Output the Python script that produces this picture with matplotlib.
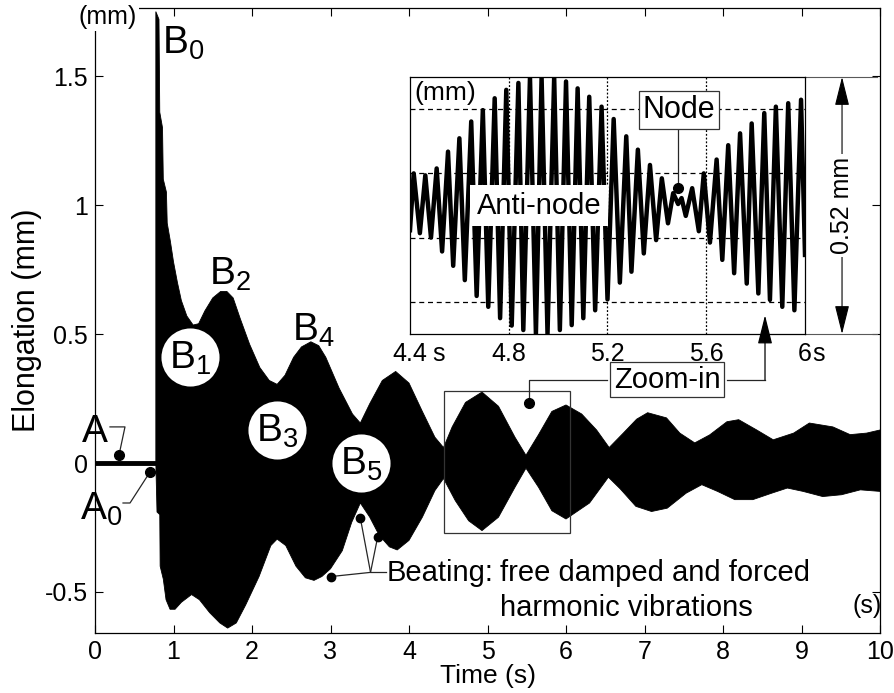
import numpy as np
import matplotlib
matplotlib.use('Agg')
import matplotlib.pyplot as plt
from matplotlib.patches import Rectangle

plt.rcParams['font.family'] = ['Liberation Sans', 'DejaVu Sans']
plt.rcParams['mathtext.fontset'] = 'custom'
plt.rcParams['mathtext.rm'] = 'Liberation Sans'
plt.rcParams['mathtext.it'] = 'Liberation Sans'

# ---------------- data ----------------
rest_t = [0.0, 0.775]
rest_v = [0.0, 0.0]

upper_t = [0.775, 0.815, 0.825, 0.86, 0.87, 0.91, 0.92, 0.96, 1.0, 1.05, 1.1, 1.17,
           1.25, 1.32, 1.40, 1.50, 1.60, 1.68, 1.76, 1.85, 1.97, 2.10, 2.22, 2.32,
           2.42, 2.53, 2.63, 2.75, 2.85, 2.94, 3.11, 3.28, 3.38, 3.50, 3.66, 3.83,
           4.0, 4.17, 4.33, 4.44, 4.55, 4.72, 4.93, 5.14, 5.35, 5.49, 5.65, 5.82,
           6.0, 6.2, 6.39, 6.55, 6.73, 6.90, 7.04, 7.28, 7.45, 7.64, 7.83, 8.05,
           8.2, 8.43, 8.64, 8.9, 9.1, 9.40, 9.62, 9.83, 10.0]
upper_v = [1.75, 1.72, 1.36, 1.30, 1.10, 1.05, 0.93, 0.86, 0.78, 0.70, 0.63, 0.57,
           0.535, 0.54, 0.59, 0.64, 0.665, 0.665, 0.64, 0.56, 0.46, 0.37, 0.32, 0.305,
           0.34, 0.41, 0.45, 0.47, 0.455, 0.41, 0.29, 0.19, 0.155, 0.23, 0.32, 0.355,
           0.31, 0.20, 0.10, 0.06, 0.14, 0.235, 0.275, 0.22, 0.10, 0.03, 0.11, 0.20,
           0.225, 0.19, 0.128, 0.06, 0.116, 0.17, 0.195, 0.175, 0.116, 0.078, 0.109, 0.16,
           0.168, 0.128, 0.09, 0.116, 0.155, 0.14, 0.11, 0.116, 0.128]

lower_t = [0.775, 0.79, 0.825, 0.83, 0.87, 0.905, 0.956, 1.02, 1.10, 1.23, 1.33, 1.46,
           1.59, 1.69, 1.80, 1.92, 2.09, 2.24, 2.32, 2.43, 2.56, 2.68, 2.79, 2.89,
           3.0, 3.15, 3.27, 3.38, 3.50, 3.62, 3.75, 3.85, 4.0, 4.17, 4.33, 4.44,
           4.59, 4.76, 4.93, 5.14, 5.35, 5.49, 5.65, 5.82, 6.0, 6.3, 6.54, 6.69,
           6.89, 7.09, 7.29, 7.53, 7.73, 7.93, 8.15, 8.38, 8.62, 8.82, 9.02, 9.27,
           9.51, 9.75, 10.0]
lower_v = [0.0, -0.19, -0.20, -0.40, -0.45, -0.53, -0.567, -0.567, -0.54, -0.51, -0.53, -0.58,
           -0.62, -0.64, -0.62, -0.55, -0.44, -0.32, -0.295, -0.32, -0.40, -0.445, -0.455, -0.44,
           -0.41, -0.34, -0.23, -0.155, -0.21, -0.28, -0.325, -0.337, -0.30, -0.21, -0.107, -0.06,
           -0.146, -0.224, -0.262, -0.21, -0.094, -0.02, -0.094, -0.185, -0.217, -0.155, -0.055, -0.10,
           -0.168, -0.188, -0.175, -0.117, -0.084, -0.11, -0.142, -0.142, -0.117, -0.097, -0.11, -0.13,
           -0.123, -0.104, -0.11]

# zoom-in (inset): successive extremes of the oscillation
inset_t = [4.40, 4.415, 4.44, 4.462, 4.485, 4.508, 4.53, 4.554, 4.575, 4.60, 4.622, 4.648,
           4.67, 4.695, 4.717, 4.743, 4.765, 4.79, 4.812, 4.839, 4.859, 4.886, 4.910, 4.933,
           4.957, 4.984, 5.007, 5.032, 5.055, 5.079, 5.102, 5.126, 5.15, 5.176, 5.20, 5.225,
           5.25, 5.276, 5.297, 5.323, 5.347, 5.372, 5.397, 5.42, 5.445, 5.466, 5.486, 5.50,
           5.517, 5.543, 5.570, 5.59, 5.615, 5.642, 5.665, 5.689, 5.713, 5.737, 5.764, 5.784,
           5.811, 5.835, 5.858, 5.882, 5.908, 5.932, 5.957, 5.984, 6.0]
inset_v = [-0.05, 0.065, -0.056, 0.061, -0.065, 0.075, -0.093, 0.109, -0.122, 0.136, -0.151, 0.170,
           -0.183, 0.193, -0.205, 0.217, -0.228, 0.234, -0.243, 0.248, -0.252, 0.26, -0.26, 0.26,
           -0.26, 0.26, -0.252, 0.251, -0.242, 0.237, -0.228, 0.220, -0.212, 0.200, -0.19, 0.175,
           -0.156, 0.14, -0.134, 0.113, -0.097, 0.082, -0.070, 0.055, -0.036, 0.025, 0.003, 0.015,
           -0.021, 0.035, -0.052, 0.065, -0.075, 0.093, -0.110, 0.122, -0.137, 0.146, -0.158, 0.166,
           -0.178, 0.187, -0.191, 0.200, -0.205, 0.207, -0.212, 0.214, -0.10]

x_ticks = [0, 1, 2, 3, 4, 5, 6, 7, 8, 9, 10]
x_tick_labels = ['0', '1', '2', '3', '4', '5', '6', '7', '8', '9', '10']
y_ticks = [-0.5, 0, 0.5, 1, 1.5]
y_tick_labels = ['-0.5', '0', '0.5', '1', '1.5']
inset_x_ticks = [4.4, 4.8, 5.2, 5.6, 6.0]
inset_x_labels = ['4.4', '4.8', '5.2', '5.6', '6']
inset_grid_y = [-0.195, -0.065, 0.065, 0.195]

# ---------------- figure ----------------
W, H = 895, 693
fig = plt.figure(figsize=(W / 100, H / 100), dpi=100)
ax = fig.add_axes([95 / W, 1 - 633 / H, 785 / W, 625 / H])
ax.set_xlim(0, 10)
ax.set_ylim(-0.659, 1.764)

ax.plot(rest_t, rest_v, color='black', lw=3.5, solid_capstyle='butt')
poly_t = np.concatenate([upper_t, lower_t[::-1]])
poly_v = np.concatenate([upper_v, lower_v[::-1]])
ax.fill(poly_t, poly_v, color='black', lw=0.6, ec='black')

ax.set_xticks(x_ticks, x_tick_labels)
ax.set_yticks(y_ticks, y_tick_labels)
ax.tick_params(direction='in', length=6, width=0.8, pad=5, labelsize=18,
               top=True, right=True)
for s in ax.spines.values():
    s.set_linewidth(0.9)
ax.set_xlabel('Time (s)', fontsize=19, labelpad=0)
ax.set_ylabel('Elongation (mm)', fontsize=22, labelpad=2)

# unit labels
ax.text(0.166, 1.729, '(mm)', fontsize=18, ha='center', va='center',
        bbox=dict(fc='white', ec='none', pad=1), clip_on=False, zorder=6)
ax.text(9.83, -0.555, '(s)', fontsize=18, ha='center', va='center')

# B labels
bsize = 28
ax.text(0.85, 1.585, r'B$_\mathregular{0}$', fontsize=bsize, ha='left', va='baseline')
ax.text(1.45, 0.69, r'B$_\mathregular{2}$', fontsize=bsize, ha='left', va='baseline')
ax.text(2.51, 0.475, r'B$_\mathregular{4}$', fontsize=bsize, ha='left', va='baseline')
circ_t = [1.21, 2.318, 3.39]
circ_v = [0.41, 0.128, 0.0]
ax.scatter(circ_t, circ_v, s=1750, color='white', zorder=3, linewidths=0)
for t, v, lab in zip(circ_t, circ_v, ['1', '3', '5']):
    ax.text(t, v - 0.005, r'B$_\mathregular{%s}$' % lab, fontsize=bsize, ha='center',
            va='center', zorder=4)

# A and A0
lc = '0.15'
ax.text(-0.166, 0.081, 'A', fontsize=bsize, ha='left', va='baseline', clip_on=False)
ax.plot([0.191, 0.382, 0.306], [0.14, 0.14, 0.031], color=lc, lw=0.9)
ax.plot([0.306], [0.031], 'o', color='black', ms=7)
ax.text(-0.19, -0.221, r'A$_\mathregular{0}$', fontsize=bsize, ha='left', va='baseline',
        clip_on=False)
ax.plot([0.357, 0.446, 0.70], [-0.155, -0.155, -0.035], color=lc, lw=0.9)
ax.plot([0.70], [-0.035], 'o', color='black', ms=7)

# Beating annotation
bt = [3.38, 3.60, 3.01]
bv = [-0.213, -0.288, -0.44]
for t, v in zip(bt, bv):
    ax.plot([t, 3.51], [v, -0.424], color=lc, lw=0.9)
ax.plot([3.51, 3.71], [-0.424, -0.424], color=lc, lw=0.9)
ax.plot(bt, bv, 'o', color='black', ms=6, zorder=5)
ax.text(3.72, -0.426, 'Beating:', fontsize=21, ha='left', va='center')
ax.text(5.153, -0.426, 'free damped and forced', fontsize=21, ha='left', va='center')
ax.text(5.153, -0.562, 'harmonic vibrations', fontsize=21, ha='left', va='center')

# zoom rectangle and Zoom-in label
ax.add_patch(Rectangle((4.45, -0.27), 1.6, 0.55, fill=False, ec='0.2', lw=0.9))
ax.text(7.287, 0.322, 'Zoom-in', fontsize=21, ha='center', va='center',
        bbox=dict(boxstyle='square,pad=0.12', fc='white', ec='0.2', lw=0.9))
ax.plot([6.52, 5.53, 5.53], [0.322, 0.322, 0.233], color=lc, lw=0.9)
ax.plot([5.53], [0.233], 'o', color='black', ms=7)
ax.plot([8.05, 8.535], [0.322, 0.322], color=lc, lw=0.9)

# ---------------- inset ----------------
axi = fig.add_axes([410 / W, 1 - 334 / H, 395 / W, 257 / H], zorder=5)
axi.set_facecolor('white')
axi.set_xlim(4.4, 6.0)
axi.set_ylim(-0.26, 0.26)
for x in inset_x_ticks[1:-1]:
    axi.axvline(x, color='black', lw=0.9, ls=(0, (1.5, 1.5)), zorder=1)
for y in inset_grid_y:
    axi.axhline(y, color='black', lw=0.9, ls=(0, (4, 3)), zorder=1)
axi.plot(inset_t, inset_v, color='black', lw=3.2, solid_joinstyle='round', zorder=2)
axi.set_xticks(inset_x_ticks, inset_x_labels)
axi.set_yticks([])
axi.tick_params(length=0, pad=6, labelsize=18)
for s in axi.spines.values():
    s.set_linewidth(0.9)
axi.text(4.489, -0.032, 's', transform=axi.get_xaxis_transform(), fontsize=18,
         ha='left', va='top')
axi.text(6.028, -0.032, 's', transform=axi.get_xaxis_transform(), fontsize=18,
         ha='left', va='top')
axi.text(4.542, 0.228, '(mm)', fontsize=19, ha='center', va='center')
axi.text(4.922, 0.0, 'Anti-node', fontsize=21, ha='center', va='center', zorder=4,
         bbox=dict(boxstyle='square,pad=0.22', fc='white', ec='none'))
axi.text(5.49, 0.193, 'Node', fontsize=22, ha='center', va='center', zorder=4,
         bbox=dict(boxstyle='square,pad=0.12', fc='white', ec='0.2', lw=0.9))
axi.plot([5.485, 5.485], [0.155, 0.035], color=lc, lw=0.9, zorder=3)
axi.plot([5.485], [0.035], 'o', color='black', ms=7, zorder=4)

# 0.52 mm dimension
for y in [0.26, -0.26]:
    axi.plot([6.0, 6.291], [y, y], color='0.35', lw=0.8, clip_on=False)
axi.annotate('', xy=(6.15, 0.26), xytext=(6.15, -0.26), annotation_clip=False,
             arrowprops=dict(arrowstyle='<|-|>,head_length=1.0,head_width=0.25',
                             mutation_scale=18, color='black', lw=0.8,
                             shrinkA=0, shrinkB=0, clip_on=False))
axi.text(6.15, 0.0, '0.52 mm', rotation=90, fontsize=18, ha='center', va='center',
         bbox=dict(fc='white', ec='none', pad=2), clip_on=False)

# arrow from Zoom-in into the inset
axi.annotate('', xy=(5.838, -0.222), xytext=(5.838, -0.353), annotation_clip=False,
             arrowprops=dict(arrowstyle='-|>,head_length=1.0,head_width=0.25',
                             mutation_scale=18, color='black', lw=0.9,
                             shrinkA=0, shrinkB=0, clip_on=False))

fig.savefig('out.png', dpi=100)
